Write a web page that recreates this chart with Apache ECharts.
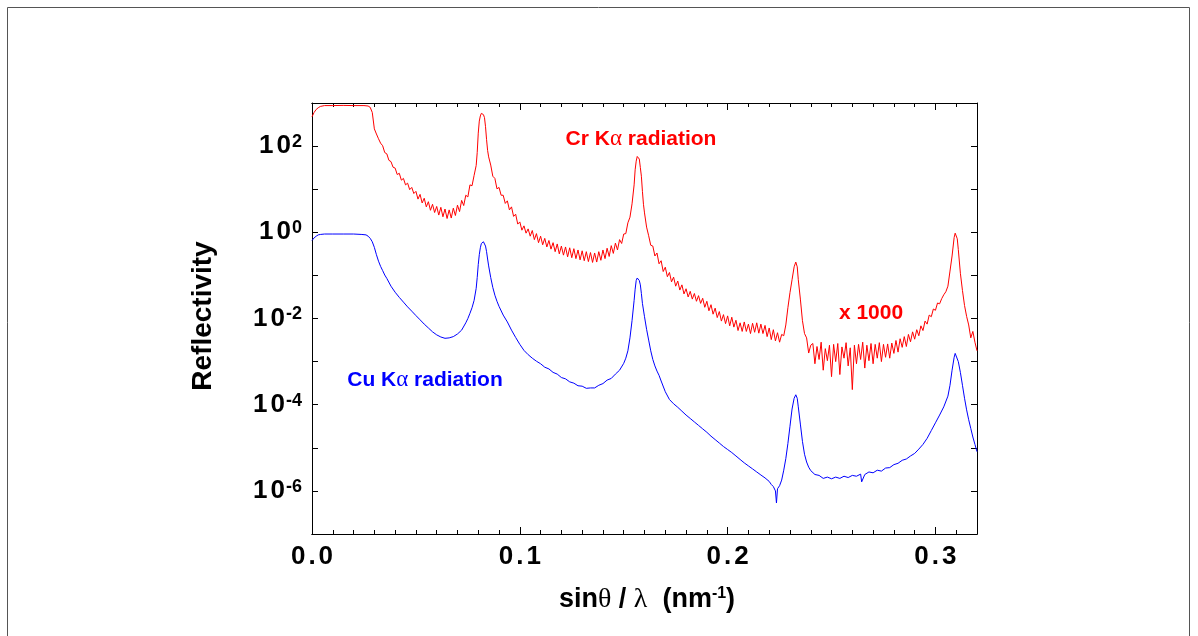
<!DOCTYPE html>
<html>
<head>
<meta charset="utf-8">
<script src="https://cdn.jsdelivr.net/npm/echarts@6/dist/echarts.min.js"></script>
<style>
html,body{margin:0;padding:0;background:#fff;}
#chart{width:1198px;height:636px;}
</style>
</head>
<body>
<div id="chart"></div>
<script>
// Cr K-alpha curve (already multiplied by 1000): [sinθ/λ (nm^-1), reflectivity]
const crPoints = [
[0,479],[0.001,603],[0.002,708],[0.003,776],[0.004,832],[0.006,871],[0.010,871],[0.015,880],[0.020,871],[0.025,871],[0.027,851],[0.028,794],[0.029,603],[0.030,251],[0.031,191],[0.032,148],[0.033,117],
[0.034,102],[0.035,70.8],[0.036,66.1],[0.037,46.8],[0.038,43.7],[0.039,32.4],[0.040,30.9],[0.041,21.9],[0.042,23.4],[0.043,16.2],[0.044,17.8],[0.045,12.6],[0.046,13.8],[0.047,9.77],[0.048,11.0],[0.049,7.94],[0.050,8.91],
[0.051,5.89],[0.052,7.59],[0.053,4.79],[0.054,6.17],[0.055,3.89],[0.056,5.13],[0.057,3.24],[0.058,4.47],[0.059,2.88],[0.060,3.98],
[0.061,2.51],[0.062,3.80],[0.063,2.29],[0.064,3.47],[0.065,2.09],[0.066,3.31],[0.067,2.14],[0.068,3.63],[0.069,2.45],[0.070,4.27],[0.071,3.02],[0.072,5.50],[0.073,4.17],[0.074,7.24],[0.075,6.61],[0.076,12.6],[0.077,12.0],[0.078,20.9],[0.0786,21.4],[0.079,35.5],[0.0795,70.8],[0.080,200],[0.0805,380],[0.081,501],[0.0815,575],[0.082,575],[0.0825,537],[0.083,457],[0.0835,282],[0.084,141],[0.0845,79.4],[0.085,56.2],
[0.086,36.3],[0.087,20.0],[0.088,17.8],[0.089,10.2],[0.090,11.0],[0.091,7.24],[0.092,7.24],[0.093,4.68],[0.094,5.37],[0.095,3.31],[0.096,3.89],[0.097,2.34],[0.098,2.63],[0.099,1.55],[0.100,1.74],[0.101,1.12],[0.102,1.41],[0.103,0.955],[0.104,1.20],[0.105,0.813],
[0.106,1.10],[0.107,0.676],[0.108,0.933],[0.109,0.575],[0.110,0.813],[0.111,0.513],[0.112,0.724],[0.113,0.457],[0.114,0.646],[0.115,0.407],[0.116,0.575],[0.117,0.355],[0.118,0.537],[0.119,0.316],[0.120,0.479],[0.121,0.295],[0.122,0.457],[0.123,0.269],[0.124,0.437],[0.125,0.257],[0.126,0.417],[0.127,0.245],[0.128,0.389],[0.129,0.229],[0.130,0.372],[0.131,0.219],[0.132,0.355],[0.133,0.209],[0.134,0.339],[0.135,0.200],[0.136,0.331],[0.137,0.204],[0.138,0.355],[0.139,0.224],[0.140,0.389],[0.141,0.245],[0.142,0.427],[0.143,0.275],[0.144,0.490],[0.145,0.324],[0.146,0.562],[0.147,0.389],[0.148,0.676],[0.149,0.550],[0.150,0.912],[0.151,0.933],[0.152,1.66],[0.153,2.24],[0.154,4.57],[0.155,12.6],[0.1555,28.2],[0.156,44.7],[0.1565,57.5],[0.157,58.9],[0.1575,50.1],[0.158,31.6],[0.1585,20.0],[0.159,8.91],[0.1595,4.47],[0.160,2.82],[0.161,1.32],
[0.162,0.832],[0.163,0.501],[0.164,0.479],[0.165,0.282],[0.166,0.331],[0.167,0.186],[0.168,0.219],[0.169,0.123],[0.170,0.155],[0.171,0.0933],[0.172,0.117],[0.173,0.0708],[0.174,0.0912],[0.175,0.0562],[0.176,0.0741],[0.177,0.0457],[0.178,0.0603],[0.179,0.0372],[0.180,0.0490],[0.181,0.0316],[0.182,0.0427],[0.183,0.0282],[0.184,0.0380],[0.185,0.0251],[0.186,0.0339],[0.187,0.0224],[0.188,0.0295],[0.189,0.0182],[0.190,0.0251],[0.191,0.0151],[0.192,0.0209],[0.193,0.0126],[0.194,0.0174],[0.195,0.0105],[0.196,0.0145],[0.197,0.00871],[0.198,0.0123],[0.199,0.00759],[0.200,0.0115],
[0.201,0.00676],[0.202,0.0107],[0.203,0.00631],[0.204,0.00912],[0.205,0.00525],[0.206,0.00794],[0.207,0.00501],[0.208,0.00832],[0.209,0.00501],[0.210,0.00741],[0.211,0.00447],[0.212,0.00776],[0.213,0.00479],[0.214,0.00794],[0.215,0.00457],[0.216,0.00741],[0.217,0.00447],[0.218,0.00692],[0.219,0.00380],[0.220,0.00603],[0.221,0.00324],[0.222,0.00550],[0.223,0.00302],[0.224,0.00468],[0.225,0.00282],[0.226,0.00427],[0.227,0.00398],[0.228,0.00708],[0.229,0.0178],[0.230,0.0398],[0.231,0.0794],[0.232,0.158],[0.2328,0.204],[0.2335,0.158],[0.234,0.0794],[0.235,0.0282],[0.236,0.00891],[0.237,0.00447],[0.238,0.00355],[0.239,0.00158],[0.240,0.00240],
[0.241,0.00263],[0.242,0.000891],[0.243,0.00224],[0.244,0.00112],[0.245,0.00282],[0.246,0.000631],[0.247,0.00200],[0.248,0.00105],[0.249,0.00240],[0.250,0.000447],[0.251,0.00251],[0.252,0.00100],[0.253,0.00263],[0.254,0.000501],[0.255,0.00219],[0.256,0.00120],[0.257,0.00275],[0.258,0.000794],[0.259,0.00209],[0.260,0.000224],[0.261,0.00240],[0.262,0.000891],[0.263,0.00251],[0.264,0.00112],[0.265,0.00282],[0.266,0.000708],[0.267,0.00240],[0.268,0.00105],[0.269,0.00263],[0.270,0.000891],[0.271,0.00251],[0.272,0.00120],[0.273,0.00275],[0.274,0.00100],[0.275,0.00251],[0.276,0.00126],
[0.277,0.00257],[0.278,0.00120],[0.279,0.00269],[0.280,0.00155],[0.281,0.00309],[0.282,0.00166],[0.283,0.00339],[0.284,0.00214],[0.285,0.00380],[0.286,0.00224],[0.287,0.00427],[0.288,0.00288],[0.289,0.00490],[0.290,0.00331],[0.291,0.00550],[0.292,0.00398],[0.293,0.00676],[0.294,0.00525],[0.295,0.00871],[0.296,0.00741],[0.297,0.0120],[0.298,0.0110],[0.299,0.0166],[0.300,0.0155],[0.301,0.0229],[0.302,0.0219],[0.303,0.0288],[0.304,0.0355],[0.305,0.0417],[0.306,0.0562],[0.307,0.126],[0.308,0.282],[0.309,0.759],[0.3095,0.955],[0.310,0.933],[0.3105,0.708],[0.311,0.398],[0.312,0.112],[0.313,0.0447],[0.314,0.0200],[0.315,0.0112],[0.316,0.00708],[0.317,0.00355],[0.318,0.00501],[0.319,0.00282],[0.320,0.00178]
];

// Cu K-alpha curve: [sinθ/λ (nm^-1), reflectivity]
const cuPoints = [
[0,0.646],[0.001,0.741],[0.002,0.813],[0.003,0.871],[0.004,0.891],[0.006,0.912],[0.010,0.912],[0.015,0.912],[0.020,0.912],[0.024,0.891],[0.026,0.871],[0.027,0.813],[0.028,0.724],[0.029,0.603],[0.030,0.447],[0.031,0.302],[0.032,0.214],[0.033,0.162],[0.034,0.129],[0.035,0.102],[0.036,0.0851],[0.038,0.0562],[0.040,0.0407],[0.042,0.0309],[0.044,0.0240],[0.046,0.0186],[0.048,0.0148],[0.050,0.0117],[0.052,0.00933],[0.054,0.00741],[0.056,0.00603],[0.058,0.00490],[0.060,0.00417],[0.062,0.00372],[0.064,0.00347],[0.066,0.00355],[0.068,0.00380],[0.070,0.00437],[0.072,0.00537],[0.074,0.00794],[0.075,0.0100],[0.076,0.0132],[0.077,0.0178],[0.078,0.0263],[0.079,0.0501],[0.0795,0.0891],[0.080,0.178],[0.0805,0.302],[0.081,0.437],[0.0815,0.550],[0.082,0.603],[0.0825,0.603],[0.083,0.550],[0.0835,0.479],[0.084,0.355],[0.0845,0.240],[0.085,0.166],[0.086,0.0891],[0.087,0.0525],[0.088,0.0347],[0.089,0.0251],[0.090,0.0191],[0.092,0.0120],[0.094,0.00832],[0.096,0.00537],[0.098,0.00363],[0.100,0.00251],[0.102,0.00182],[0.104,0.00145],[0.106,0.00120],[0.108,0.00102],[0.110,0.000891],[0.112,0.000741],[0.114,0.000676],[0.116,0.000562],[0.118,0.000513],[0.120,0.000427],[0.122,0.000398],[0.124,0.000339],[0.126,0.000316],[0.128,0.000275],[0.130,0.000269],[0.132,0.000240],[0.134,0.000245],[0.136,0.000245],[0.138,0.000282],[0.140,0.000309],[0.142,0.000372],[0.144,0.000407],[0.146,0.000513],[0.148,0.000631],[0.150,0.000912],[0.151,0.00120],[0.152,0.00178],[0.153,0.00355],[0.154,0.00891],[0.155,0.0263],[0.1555,0.0479],[0.156,0.0759],[0.1565,0.0871],[0.157,0.0851],[0.1575,0.0759],[0.158,0.0603],[0.1585,0.0380],[0.159,0.0224],[0.160,0.0110],[0.161,0.00562],[0.162,0.00316],[0.163,0.00178],[0.164,0.00112],[0.165,0.000794],[0.166,0.000603],[0.167,0.000479],[0.168,0.000355],[0.170,0.000200],[0.172,0.000132],[0.174,0.000105],[0.176,0.0000871],[0.178,0.0000708],[0.180,0.0000575],[0.182,0.0000479],[0.184,0.0000398],[0.186,0.0000331],[0.188,0.0000275],[0.190,0.0000229],[0.192,0.0000186],[0.194,0.0000155],[0.196,0.0000129],[0.198,0.0000107],[0.200,0.00000912],[0.202,0.00000776],[0.204,0.00000646],[0.206,0.00000537],[0.208,0.00000447],[0.210,0.00000380],[0.212,0.00000324],[0.214,0.00000275],[0.216,0.00000234],[0.218,0.00000200],[0.220,0.00000166],[0.221,0.00000141],[0.222,0.00000126],[0.223,0.00000100],[0.2235,0.000000525],[0.224,0.00000112],[0.225,0.00000132],[0.226,0.00000178],[0.227,0.00000302],[0.228,0.00000562],[0.229,0.0000126],[0.230,0.0000316],[0.231,0.0000794],[0.232,0.000141],[0.2328,0.000170],[0.2335,0.000141],[0.234,0.0000891],[0.235,0.0000355],[0.236,0.0000141],[0.237,0.00000708],[0.238,0.00000468],[0.239,0.00000355],[0.240,0.00000295],[0.242,0.00000240],[0.244,0.00000229],[0.246,0.00000195],[0.248,0.00000209],[0.250,0.00000191],[0.252,0.00000209],[0.254,0.00000195],[0.256,0.00000219],[0.258,0.00000204],[0.260,0.00000229],[0.262,0.00000219],[0.264,0.00000245],[0.2645,0.00000162],[0.266,0.00000240],[0.268,0.00000275],[0.270,0.00000263],[0.272,0.00000302],[0.274,0.00000288],[0.276,0.00000339],[0.278,0.00000347],[0.280,0.00000407],[0.282,0.00000437],[0.284,0.00000513],[0.286,0.00000550],[0.288,0.00000646],[0.290,0.00000741],[0.292,0.00000933],[0.294,0.0000120],[0.296,0.0000166],[0.298,0.0000251],[0.300,0.0000380],[0.302,0.0000575],[0.304,0.0000891],[0.306,0.000158],[0.307,0.000282],[0.308,0.000631],[0.309,0.00126],[0.3095,0.00155],[0.310,0.00148],[0.311,0.00100],[0.312,0.000562],[0.313,0.000282],[0.314,0.000141],[0.315,0.0000759],[0.316,0.0000447],[0.317,0.0000282],[0.318,0.0000178],[0.319,0.0000120],[0.320,0.00000813]
];

const xMajorTicks = [0, 0.1, 0.2, 0.3];
const yLabelExponents = [-6, -4, -2, 0, 2];

const FONT = '"Liberation Sans", Arial, Helvetica, sans-serif';
const GREEK = '"Liberation Serif", "Times New Roman", serif';

const chart = echarts.init(document.getElementById('chart'), null, {renderer: 'canvas'});

function xLabel(v) {
  for (const t of xMajorTicks) {
    if (Math.abs(v - t) < 1e-6) {
      const s = t.toFixed(1).split('.');
      return '{d|' + s[0] + '}{p|.}{d|' + s[1] + '}';
    }
  }
  return '';
}
function yLabel(v) {
  const e = Math.round(Math.log10(v));
  if (yLabelExponents.indexOf(e) < 0) return '';
  return '{a|1}{b|0}{s|' + e + '}';
}

const black = {color: '#000', width: 1};
function xAx(pos, interval, len, labels) {
  return {
    type: 'value', position: pos, min: 0, max: 0.32, interval: interval,
    axisLine: {show: true, onZero: false, lineStyle: black},
    axisTick: {show: true, inside: true, length: len, lineStyle: black},
    axisLabel: labels ? {
      show: true, margin: 10, formatter: xLabel,
      rich: {
        d: {fontFamily: FONT, fontWeight: 'bold', fontSize: 26, color: '#000'},
        p: {fontFamily: FONT, fontWeight: 'bold', fontSize: 26, color: '#000', padding: [0, 3, 0, 3]}
      }
    } : {show: false},
    splitLine: {show: false}
  };
}
function yAx(pos, labels) {
  return {
    type: 'log', logBase: 10, position: pos, min: 1e-7, max: 1000, interval: 1, splitNumber: 10,
    axisLine: {show: true, onZero: false, lineStyle: black},
    axisTick: {show: true, inside: true, length: 6, lineStyle: black},
    minorTick: {show: false},
    axisLabel: labels ? {
      show: true, margin: 10, formatter: yLabel,
      rich: {
        a: {fontFamily: FONT, fontWeight: 'bold', fontSize: 26, color: '#000'},
        b: {fontFamily: FONT, fontWeight: 'bold', fontSize: 26, color: '#000', padding: [0, 0, 0, 3]},
        s: {fontFamily: FONT, fontWeight: 'bold', fontSize: 18, color: '#000', verticalAlign: 'top', padding: [0, 0, 0, 1]}
      }
    } : {show: false},
    splitLine: {show: false}
  };
}

const option = {
  animation: false,
  backgroundColor: '#fff',
  grid: {left: 312, right: 221, top: 103, bottom: 102, containLabel: false},
  xAxis: [
    xAx('bottom', 0.01, 4, false),
    xAx('bottom', 0.1, 7, true),
    xAx('top', 0.01, 4, false),
    xAx('top', 0.1, 7, false)
  ],
  yAxis: [yAx('left', true), yAx('right', false)],
  series: [
    {type: 'line', name: 'Cr', xAxisIndex: 1, yAxisIndex: 0, data: crPoints, showSymbol: false, symbol: 'none', sampling: null, silent: true,
     lineStyle: {color: '#ff0000', width: 1}, itemStyle: {color: '#ff0000'}},
    {type: 'line', name: 'Cu', xAxisIndex: 1, yAxisIndex: 0, data: cuPoints, showSymbol: false, symbol: 'none', sampling: null, silent: true,
     lineStyle: {color: '#0000ff', width: 1}, itemStyle: {color: '#0000ff'}}
  ],
  graphic: [
    {type: 'rect', shape: {x: 7.5, y: 7.5, width: 1182, height: 640}, style: {fill: 'none', stroke: '#555', lineWidth: 1}, silent: true},
    {type: 'text', x: 203, y: 316, rotation: Math.PI / 2,
     style: {text: 'Reflectivity', font: 'bold 28px ' + FONT, fill: '#000', align: 'center', verticalAlign: 'middle', textAlign: 'center', textVerticalAlign: 'middle'}},
    {type: 'text', x: 647, y: 600,
     style: {
       text: '{t|sin}{g|θ}{t| / }{g|λ}{t|  (nm}{s|-1}{t|)}',
       align: 'center', verticalAlign: 'middle', textAlign: 'center', textVerticalAlign: 'middle',
       rich: {
         t: {fontFamily: FONT, fontWeight: 'bold', fontSize: 27, fill: '#000', color: '#000'},
         g: {fontFamily: GREEK, fontWeight: 'normal', fontSize: 28, fill: '#000', color: '#000'},
         s: {fontFamily: FONT, fontWeight: 'bold', fontSize: 16, fill: '#000', color: '#000', verticalAlign: 'top'}
       }
     }},
    {type: 'text', x: 641, y: 139,
     style: {
       text: '{t|Cr K}{g|α}{t| radiation}',
       align: 'center', verticalAlign: 'middle', textAlign: 'center', textVerticalAlign: 'middle',
       rich: {
         t: {fontFamily: FONT, fontWeight: 'bold', fontSize: 21, fill: '#ff0000', color: '#ff0000'},
         g: {fontFamily: GREEK, fontWeight: 'normal', fontSize: 23, fill: '#ff0000', color: '#ff0000'}
       }
     }},
    {type: 'text', x: 425, y: 380,
     style: {
       text: '{t|Cu K}{g|α}{t| radiation}',
       align: 'center', verticalAlign: 'middle', textAlign: 'center', textVerticalAlign: 'middle',
       rich: {
         t: {fontFamily: FONT, fontWeight: 'bold', fontSize: 21, fill: '#0000ff', color: '#0000ff'},
         g: {fontFamily: GREEK, fontWeight: 'normal', fontSize: 23, fill: '#0000ff', color: '#0000ff'}
       }
     }},
    {type: 'text', x: 871, y: 313,
     style: {text: 'x 1000', font: 'bold 21px ' + FONT, fill: '#ff0000', align: 'center', verticalAlign: 'middle', textAlign: 'center', textVerticalAlign: 'middle'}}
  ]
};
chart.setOption(option);
</script>
</body>
</html>
